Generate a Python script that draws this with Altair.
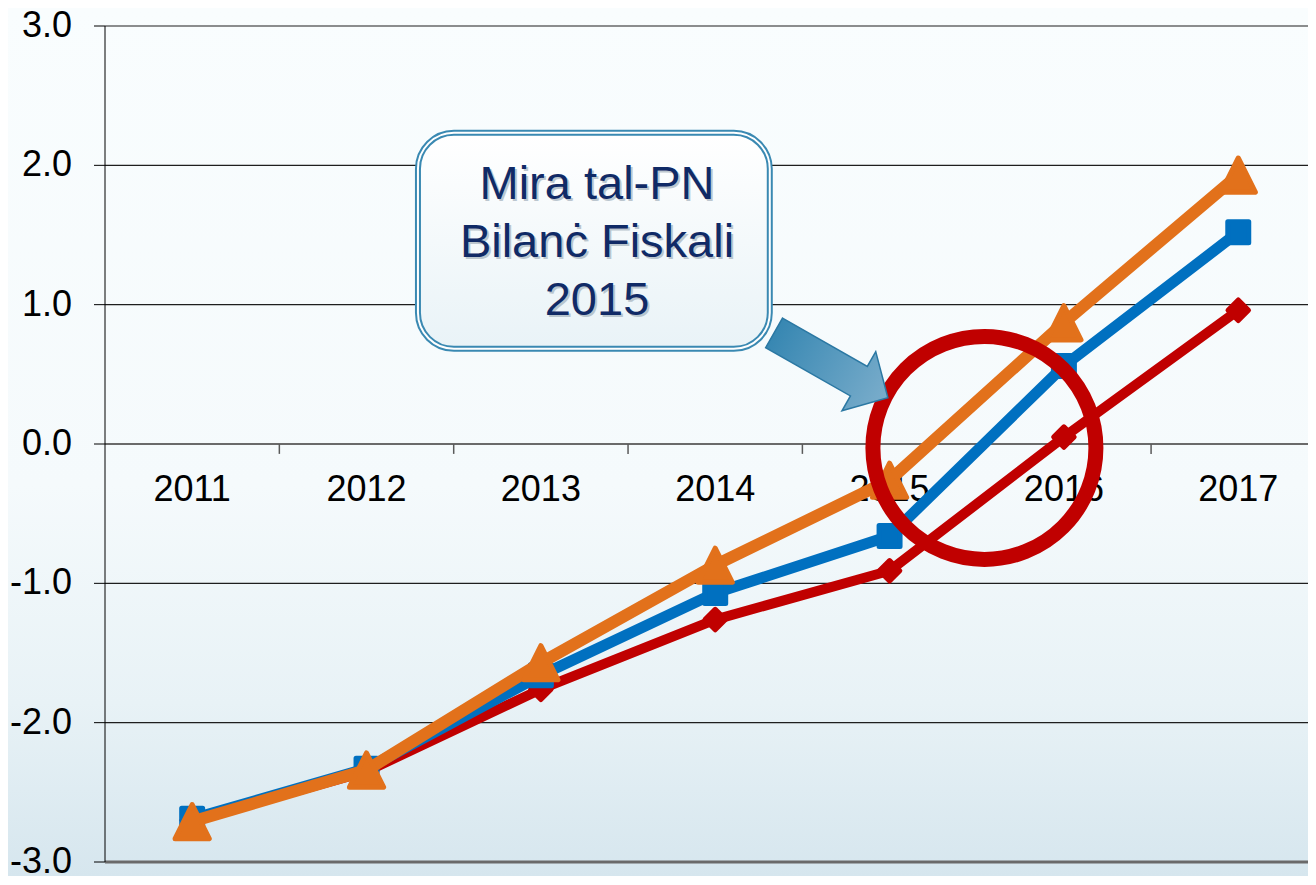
import altair as alt
import pandas as pd

# ---------------- data ----------------
years = [2011, 2012, 2013, 2014, 2015, 2016, 2017]
blue_vals = [-2.69, -2.33, -1.66, -1.07, -0.66, 0.56, 1.52]
red_vals = [-2.70, -2.35, -1.76, -1.26, -0.91, 0.05, 0.96]
orange_vals = [-2.71, -2.34, -1.57, -0.87, -0.26, 0.87, 1.93]
y_ticks = [-3, -2, -1, 0, 1, 2, 3]
y_tick_labels = ["-3.0", "-2.0", "-1.0", "0.0", "1.0", "2.0", "3.0"]
box_lines = ["Mira tal-PN", "Bilanċ Fiskali", "2015"]

# annotation anchors (data coordinates)
BOX_X, BOX_X2, BOX_Y, BOX_Y2 = 2012.295, 2014.313, 2.233, 0.683
TEXT_X, TEXT_Y = 2013.322, 1.756
CIRCLE_X, CIRCLE_Y = 2015.544, -0.028
ARROW_X, ARROW_Y = 2014.664, 0.565

W, H = 1203, 836
FONT = "Liberation Sans"
BLUE, RED, ORANGE = "#0070C0", "#C00000", "#E2711B"

x_scale = alt.Scale(domain=[2010.5, 2017.4], nice=False, zero=False)
y_scale = alt.Scale(domain=[-3, 3], nice=False, zero=False)

df = pd.DataFrame({"year": years, "blue": blue_vals, "red": red_vals, "orange": orange_vals})
one = pd.DataFrame({"k": [0]})
grid_df = pd.DataFrame({"v": y_ticks, "lab": y_tick_labels})


def X(f):
    return alt.X(f, scale=x_scale, axis=None)


def Y(f):
    return alt.Y(f, scale=y_scale, axis=None)


def XD(v):
    return alt.X(datum=v, type="quantitative", scale=x_scale, axis=None)


def YD(v):
    return alt.Y(datum=v, type="quantitative", scale=y_scale, axis=None)


# background gradient
bg = alt.Chart(one).mark_rect(
    fill=alt.LinearGradient(
        gradient="linear",
        stops=[
            alt.GradientStop(color="#F9FDFE", offset=0),
            alt.GradientStop(color="#F5FAFC", offset=0.55),
            alt.GradientStop(color="#E8F2F6", offset=0.8),
            alt.GradientStop(color="#D6E6EE", offset=1),
        ],
        x1=0, x2=0, y1=0, y2=1,
    )
).encode(x=alt.value(-97), x2=alt.value(W + 5), y=alt.value(-18), y2=alt.value(H + 14))

# horizontal gridlines
grid = alt.Chart(grid_df).transform_filter("datum.v != 0 && datum.v != -3").mark_rule(
    color="#1E1E1E", strokeWidth=1.2
).encode(y=Y("v:Q"))
zero_rule = alt.Chart(one).mark_rule(color="#6A6A6A", strokeWidth=2).encode(y=YD(0))
bottom_rule = alt.Chart(one).mark_rule(color="#6A6A6A", strokeWidth=3).encode(y=YD(-3))

# y axis: domain line, ticks and labels
y_domain = alt.Chart(one).mark_rule(color="black", strokeWidth=1).encode(
    x=alt.value(0), y=alt.value(0), y2=alt.value(H)
)
y_tickmarks = alt.Chart(grid_df).mark_rule(color="black", strokeWidth=1).encode(
    x=alt.value(-11), x2=alt.value(0), y=Y("v:Q")
)
y_labels = alt.Chart(grid_df).mark_text(
    font=FONT, fontSize=36, color="black", align="right", baseline="middle"
).encode(x=alt.value(-33), y=Y("v:Q"), text="lab:N")

# x ticks at category boundaries and labels
xticks = alt.Chart(df).transform_calculate(b="datum.year + 0.5").mark_rule(
    color="#5A5A5A", strokeWidth=1.5
).encode(x=X("b:Q"), y=YD(0), y2=alt.Y2(datum=-0.071))

xlabels = alt.Chart(df).mark_text(
    font=FONT, fontSize=36, color="black", baseline="alphabetic", align="center", dy=57
).encode(x=X("year:Q"), y=YD(0), text=alt.Text("year:Q", format="d"))


def series(field, color, width, shape, size, sw):
    line = alt.Chart(df).mark_line(color=color, strokeWidth=width, strokeJoin="round").encode(
        x=X("year:Q"), y=Y(f"{field}:Q")
    )
    pts = alt.Chart(df).mark_point(
        shape=shape, size=size, filled=True, fill=color, stroke=color,
        strokeWidth=sw, strokeJoin="round", opacity=1
    ).encode(x=X("year:Q"), y=Y(f"{field}:Q"))
    return [line, pts]


TRI = "M0,-0.9 L0.9,0.9 L-0.9,0.9 Z"
layers_series = (
    series("red", RED, 10, "diamond", 420, 5)
    + series("blue", BLUE, 11, "square", 440, 5)
    + series("orange", ORANGE, 12, TRI, 1444, 5)
)

# annotation box
box_fill = alt.LinearGradient(
    gradient="linear",
    stops=[alt.GradientStop(color="#FFFFFF", offset=0), alt.GradientStop(color="#E9F3F7", offset=1)],
    x1=0, x2=0, y1=0, y2=1,
)
box = alt.Chart(one).mark_rect(cornerRadius=36, fill=box_fill, stroke="#3A89B2", strokeWidth=6).encode(
    x=XD(BOX_X), x2=alt.X2(datum=BOX_X2), y=YD(BOX_Y), y2=alt.Y2(datum=BOX_Y2)
)
box_inner = alt.Chart(one).mark_rect(cornerRadius=36, fillOpacity=0, stroke="white", strokeWidth=2).encode(
    x=XD(BOX_X), x2=alt.X2(datum=BOX_X2), y=YD(BOX_Y), y2=alt.Y2(datum=BOX_Y2)
)
text_shadow = alt.Chart(one).mark_text(
    text=box_lines, font=FONT, fontSize=47, lineHeight=58, align="center", baseline="alphabetic",
    color="#A3B1BC", opacity=0.7, dx=2, dy=2
).encode(x=XD(TEXT_X), y=YD(TEXT_Y))
text = alt.Chart(one).mark_text(
    text=box_lines, font=FONT, fontSize=47, lineHeight=58, align="center", baseline="alphabetic",
    color="#102A66"
).encode(x=XD(TEXT_X), y=YD(TEXT_Y))

# red circle
circle = alt.Chart(one).mark_point(
    shape="circle", size=49729, filled=False, stroke="#C00000", strokeWidth=15, opacity=1
).encode(x=XD(CIRCLE_X), y=YD(CIRCLE_Y))

# block arrow
ARROW = "M-1,-0.26 L0.49,-0.26 L0.49,-0.52 L1,0 L0.49,0.52 L0.49,0.26 L-1,0.26 Z"
arrow = alt.Chart(one).mark_point(
    shape=ARROW, size=17161, angle=29.7, filled=True,
    fill=alt.LinearGradient(
        gradient="linear",
        stops=[alt.GradientStop(color="#3787B2", offset=0), alt.GradientStop(color="#7AADCB", offset=1)],
        x1=0, x2=1, y1=0, y2=0,
    ),
    stroke="#2B78A3", strokeWidth=1.5, opacity=1,
).encode(x=XD(ARROW_X), y=YD(ARROW_Y))

chart = alt.layer(
    bg, grid, zero_rule, bottom_rule, y_domain, y_tickmarks, y_labels, xticks, xlabels,
    *layers_series,
    box, box_inner, text_shadow, text, circle, arrow,
).properties(
    width=W,
    height=H,
    padding={"left": 97, "top": 18, "right": 0, "bottom": 14},
    autosize=alt.AutoSizeParams(type="none"),
).configure_view(strokeWidth=0)

chart.save("out.html", embed_options={"renderer": "svg", "actions": False})
